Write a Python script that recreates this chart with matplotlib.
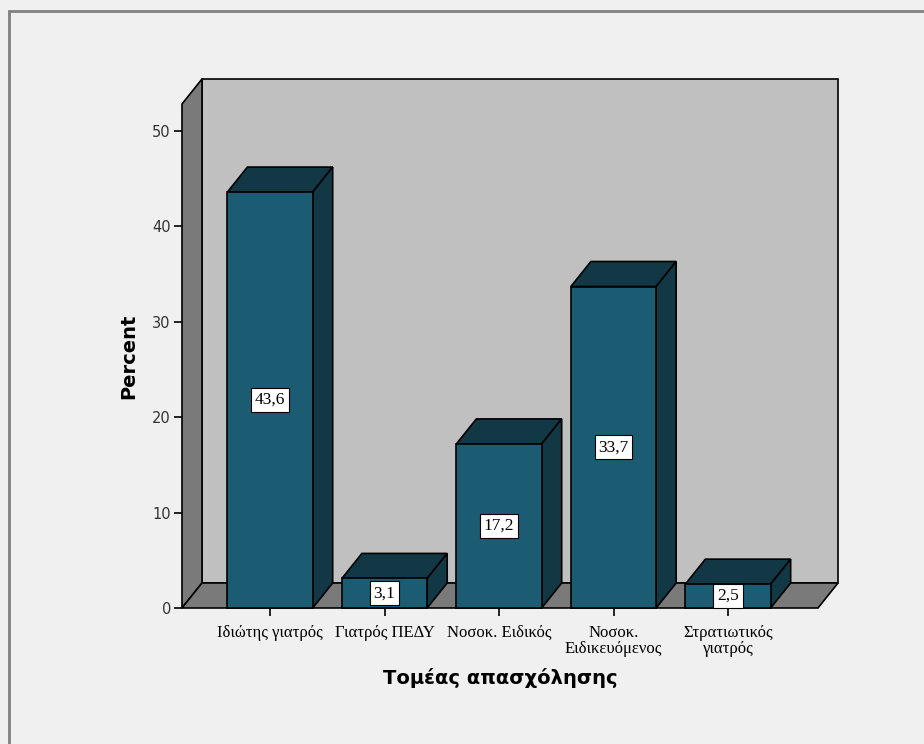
import numpy as np
import matplotlib
matplotlib.use("Agg")
import matplotlib.pyplot as plt
from matplotlib.patches import Polygon, Rectangle
from matplotlib.transforms import IdentityTransform

# Employment sector of respondents (percent)
categories = ["Ιδιώτης γιατρός", "Γιατρός ΠΕΔΥ", "Νοσοκ. Ειδικός",
              "Νοσοκ.\nΕιδικευόμενος", "Στρατιωτικός\nγιατρός"]
percent = [43.6, 3.1, 17.2, 33.7, 2.5]
value_labels = ["43,6", "3,1", "17,2", "33,7", "2,5"]
yticks = [0, 10, 20, 30, 40, 50]

BG = "#f0f0f0"
FRONT = "#1b5c73"
SHADE = "#123845"
WALL_BACK = "#c0c0c0"
WALL_SIDE = "#7a7a7a"
DEPTH = np.array([20.0, 25.0])  # oblique depth offset in pixels

fig = plt.figure(figsize=(9.24, 7.44), dpi=100, facecolor=BG)
ax = fig.add_axes([182 / 924, 136 / 744, 636 / 924, 504 / 744])
ax.set_facecolor("none")
x = np.arange(len(categories))
ax.set_xlim(-0.769, 4.786)
ax.set_ylim(0, 52.83)
for s in ax.spines.values():
    s.set_visible(False)

fig.canvas.draw()


def pt(xv, yv, d):
    p = ax.transData.transform((xv, yv))
    return p + d * DEPTH


def face(points, color, z):
    poly = Polygon([pt(*p) for p in points], closed=True, facecolor=color,
                   edgecolor="black", linewidth=1.2, joinstyle="miter",
                   transform=IdentityTransform(), zorder=z, clip_on=False)
    ax.add_artist(poly)


xl, xr = ax.get_xlim()
top = ax.get_ylim()[1]

# walls and floor
face([(xl, 0, 1), (xr, 0, 1), (xr, top, 1), (xl, top, 1)], WALL_BACK, 1)
face([(xl, 0, 0), (xl, top, 0), (xl, top, 1), (xl, 0, 1)], WALL_SIDE, 1.5)
face([(xl, 0, 0), (xr, 0, 0), (xr, 0, 1), (xl, 0, 1)], WALL_SIDE, 1.5)

# bars
w = 0.745
for xi, v in zip(x, percent):
    a, b = xi - w / 2, xi + w / 2
    face([(a, v, 0), (b, v, 0), (b, v, 1), (a, v, 1)], SHADE, 3)
    face([(b, 0, 0), (b, v, 0), (b, v, 1), (b, 0, 1)], SHADE, 3)
    face([(a, 0, 0), (b, 0, 0), (b, v, 0), (a, v, 0)], FRONT, 4)

# value labels
for xi, v, lab in zip(x, percent, value_labels):
    ax.text(xi, v / 2, lab, ha="center", va="center", fontsize=12.5,
            family="Liberation Serif", color="black", zorder=10,
            bbox=dict(boxstyle="square,pad=0.22", facecolor="white",
                      edgecolor="black", linewidth=0.8))

ax.set_yticks(yticks)
ax.set_yticklabels([str(t) for t in yticks], fontsize=10.5,
                   family="DejaVu Sans", color="#333333")
ax.set_xticks(x)
ax.set_xticklabels(categories, fontsize=12, family="Liberation Serif",
                   color="black", linespacing=1.0)
ax.tick_params(axis="y", length=6, width=1.2, color="black", pad=2)
ax.tick_params(axis="x", length=6, width=1.2, color="black", pad=6)

ax.set_ylabel("Percent", fontsize=14, fontweight="bold",
              family="DejaVu Sans", labelpad=10)
ax.set_xlabel("Τομέας απασχόλησης", fontsize=14, fontweight="bold",
              family="DejaVu Sans", labelpad=8)

# frame around the chart area
fig.add_artist(Rectangle((9 / 924, -0.2), 2, 1 - 11 / 744 + 0.2,
                         transform=fig.transFigure, facecolor="none",
                         edgecolor="#808080", linewidth=2))

fig.savefig("out.png", dpi=100, facecolor=BG)
